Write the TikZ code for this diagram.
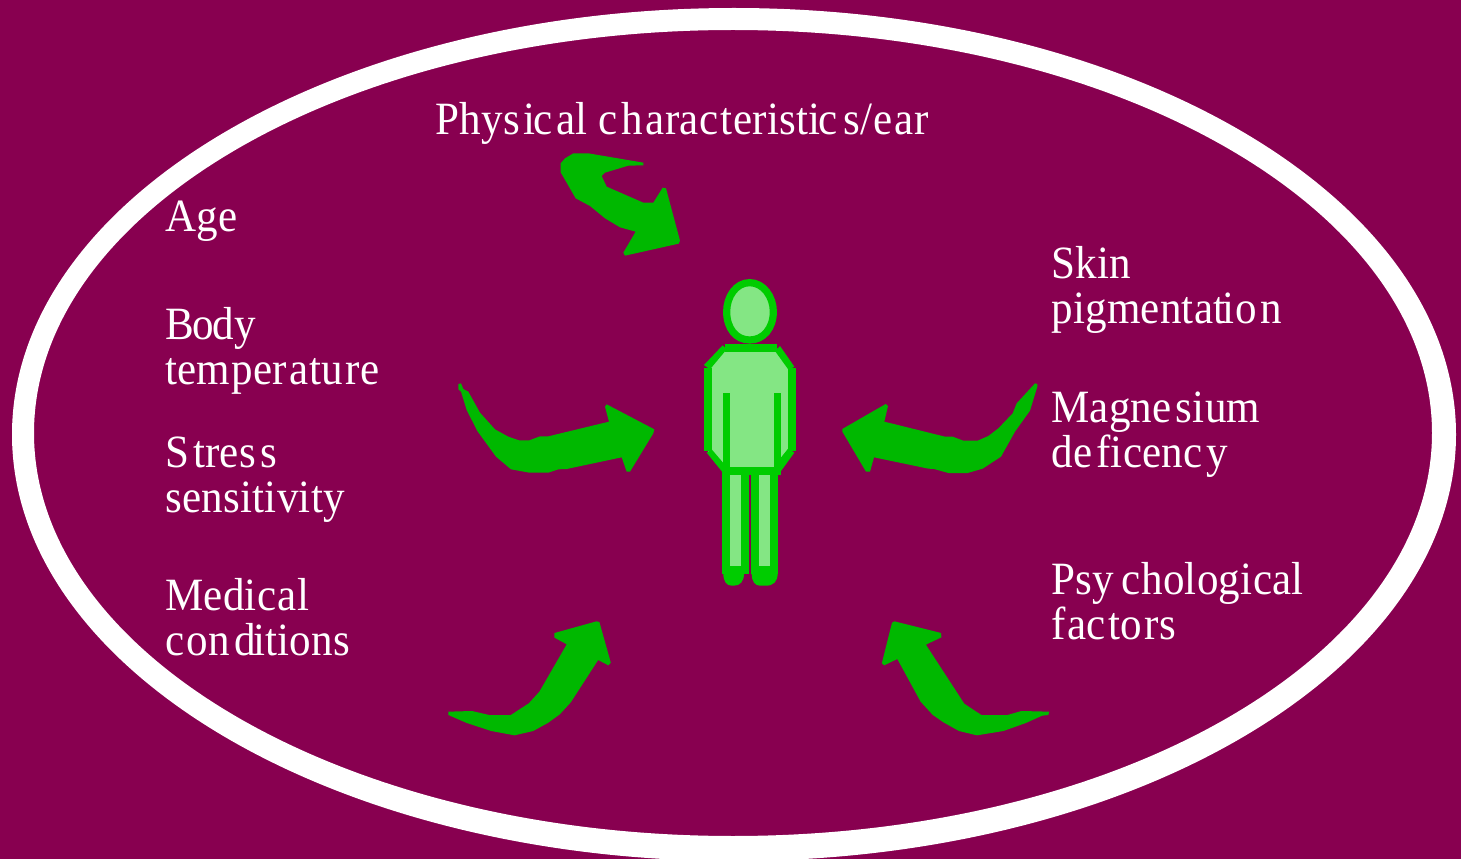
\documentclass[tikz,border=0pt]{standalone}
\usepackage{fontspec}
\setmainfont[FakeStretch=0.93,LetterSpace=0.6]{Liberation Serif}
\definecolor{maroon}{HTML}{880050}
\definecolor{arrowgreen}{HTML}{00B800}
\definecolor{figgreen}{HTML}{00CC00}
\definecolor{figfill}{HTML}{84E684}
\newcommand{\gp}{\kern 3pt{}}
\newcommand{\tg}{\kern -2pt{}}
\tikzset{
  lbl/.style={text=white,font=\fontsize{34.7pt}{33.75pt}\selectfont,inner sep=0pt,align=left,anchor=base west},
  swoosh/.style={fill=arrowgreen,draw=none},
  figline/.style={draw=figgreen,line width=5.4pt,line join=miter},
  figthin/.style={fill=figgreen,draw=none},
}
\begin{document}
\begin{tikzpicture}[x=0.75pt,y=-0.75pt]
\useasboundingbox (0,0) rectangle (1461,859);
\fill[maroon] (0,0) rectangle (1461,859);
\begin{scope}
\clip (0,0) rectangle (1461,859);
\fill[white,even odd rule] (734,434.5) ellipse [x radius=722,y radius=426.5] (733,433) ellipse [x radius=699,y radius=403];
\end{scope}
% top arrow
\begin{scope}[shift={(440,140)},x=0.25pt,y=-0.25pt]
\fill[swoosh] (362,70)--(375,55)--(400,40)--(445,40)--(610,68)--(610,76)--(565,77)--(495,98)--(485,108)--(500,140)--(610,188)--(640,188)--(668,143)--(678,145)--(720,302)--(716,311)--(555,347)--(550,338)--(587,275)--(540,262)--(495,235)--(450,198)--(407,175)--(362,97)--cycle;
\fill[swoosh] (55,732)--(63,730)--(70,747)--(85,755)--(120,818)--(165,868)--(205,890)--(237,901)--(268,901)--(300,889)--(325,889)--(507,845)--(495,800)--(500,793)--(643,868)--(640,880)--(570,995)--(560,995)--(545,952)--(380,987)--(355,988)--(325,998)--(268,998)--(213,988)--(168,950)--(112,873)--(80,810)--(63,755)--(55,748)--cycle;
\end{scope}
\begin{scope}[shift={(430,600)},x=0.3061pt,y=-0.25pt]
\fill[swoosh] (45,335)--(103,333)--(145,345)--(198,345)--(242,310)--(268,275)--(335,133)--(305,113)--(305,99)--(408,64)--(415,66)--(443,188)--(437,196)--(412,180)--(345,307)--(318,343)--(290,368)--(253,393)--(207,406)--(150,393)--(90,369)--(45,345)--cycle;
\fill[swoosh] (1517,335)--(1449,333)--(1415,345)--(1351,345)--(1309,311)--(1290,275)--(1215,134)--(1253,112)--(1252,99)--(1138,64)--(1132,68)--(1107,190)--(1113,196)--(1145,177)--(1202,305)--(1232,345)--(1258,367)--(1296,393)--(1340,406)--(1405,393)--(1460,369)--(1500,347)--(1515,345)--cycle;
\end{scope}
\begin{scope}[shift={(830,370)},x=0.25pt,y=-0.25pt]
\fill[swoosh] (622,42)--(615,40)--(560,100)--(548,130)--(505,175)--(475,198)--(443,212)--(400,212)--(368,200)--(345,200)--(163,155)--(174,108)--(167,102)--(37,177)--(37,185)--(108,305)--(120,305)--(132,262)--(295,296)--(312,297)--(355,309)--(413,309)--(458,296)--(513,260)--(555,185)--(600,122)--(622,50)--cycle;
\end{scope}
% figure
\begin{scope}[shift={(680,270)},x=0.25pt,y=-0.25pt]
\draw[figline,fill=figfill] (209,38) .. controls (250,38) and (280,80) .. (280,125) .. controls (280,175) and (250,210) .. (209,210) .. controls (168,210) and (140,175) .. (140,125) .. controls (140,80) and (168,38) .. (209,38) -- cycle;
\fill[figfill] (130,234)--(290,234)--(335,290)--(335,545)--(290,602)--(130,602)--(84,545)--(84,290)--cycle;
\fill[figfill] (150,610) rectangle (183,890);
\fill[figfill] (237,610) rectangle (270,890);
% body outline
\fill[figthin] (136,222)--(290,222)--(290,245)--(136,245)--cycle;
\fill[figthin] (128,226)--(140,238)--(90,298)--(72,285)--cycle;
\fill[figthin] (300,228)--(343,290)--(326,300)--(285,243)--cycle;
\fill[figthin] (72,295) rectangle (95,543);
\fill[figthin] (325,295) rectangle (347,543);
\fill[figthin] (80,548)--(95,538)--(135,585)--(127,606)--cycle;
\fill[figthin] (343,548)--(325,535)--(285,585)--(298,610)--cycle;
\fill[figthin] (128,370) rectangle (150,600);
\fill[figthin] (281,370) rectangle (303,600);
\fill[figthin] (127,590) rectangle (303,615);
% legs
\fill[figthin] (127,600) rectangle (150,912);
\fill[figthin] (183,615) rectangle (207,912);
\fill[figthin] (213,615) rectangle (237,912);
\fill[figthin] (270,600) rectangle (295,912);
\fill[figthin] (127,887) rectangle (207,912);
\fill[figthin] (213,887) rectangle (295,912);
\fill[figthin] (130,910)--(192,910) .. controls (192,935) and (180,947) .. (162,947) -- (155,947) .. controls (140,947) and (130,935) .. (130,910) -- cycle;
\fill[figthin] (215,910)--(293,910) .. controls (293,935) and (280,947) .. (258,947) -- (240,947) .. controls (225,947) and (215,935) .. (215,910) -- cycle;
\end{scope}
% labels
\node[lbl] (phys) at (435,135) {Phys\gp i\tg c\gp al c\gp h\kern 2pt{}arac\kern 2pt{}teristi\tg c\kern 5pt{}s/e\kern 2pt{}ar};
\node[lbl] (age) at (165,232) {Age};
\node[lbl] (body) at (165,385) {B\kern -1pt{}o\kern -1pt{}dy\\tem\kern 1pt{}per\kern 2pt{}atu\kern 2pt{}re};
\node[lbl] (stress) at (165,512) {S\gp tres\gp s\\sensitivity};
\node[lbl] (med) at (165,655) {Medic\kern 1pt{}al\\c\kern 2pt{}on\gp d\tg itions};
\node[lbl] (skin) at (1051,324) {S\kern 0.5pt{}kin\\pigmentat\tg io\gp n};
\node[lbl] (mag) at (1051,467) {Magne\gp sium\\de\gp ficenc\gp y};
\node[lbl] (psy) at (1051,639) {Psy\kern 6pt{}chological\\f\kern 1.5pt{}ac\kern 1.5pt{}to\kern 2pt{}rs};
\end{tikzpicture}
\end{document}
